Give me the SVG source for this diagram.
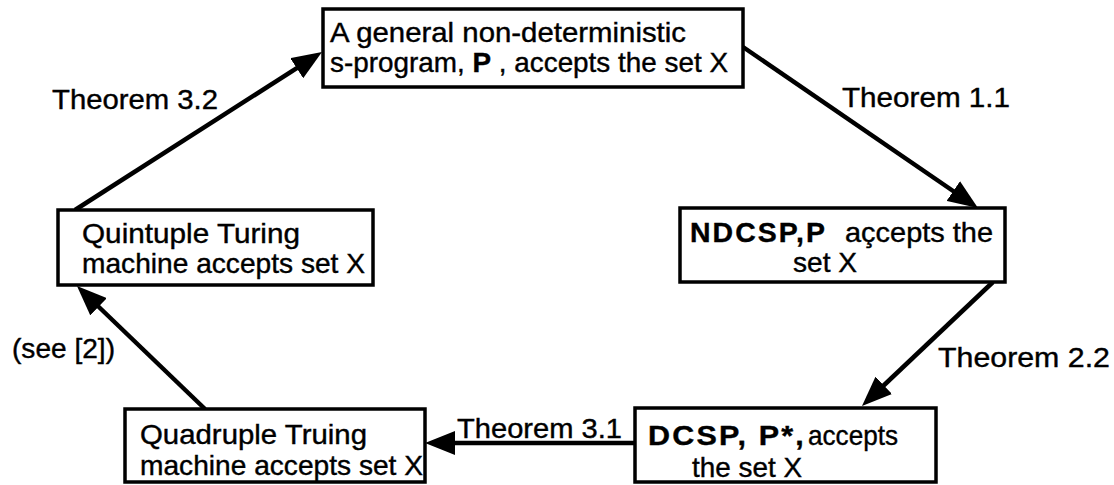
<svg xmlns="http://www.w3.org/2000/svg" width="1114" height="485" viewBox="0 0 1114 485">
  <style>
    .box { fill: #ffffff; stroke: #000000; stroke-width: 3.5; }
    .t { font-family: "Liberation Sans", Arial, Helvetica, sans-serif; font-size: 28px; fill: #000000; stroke: #000000; stroke-width: 0.4; }
    .b { font-weight: bold; }
    .wide { font-weight: bold; letter-spacing: 2px; }
    .edge { fill: none; stroke: #000000; stroke-width: 4.5; }
  </style>
  <defs>
    <marker id="head" viewBox="0 0 30 24" markerWidth="30" markerHeight="24" refX="14" refY="12" orient="auto" markerUnits="userSpaceOnUse">
      <path d="M0,0 L30,12 L0,24 z" fill="#000000"/>
    </marker>
  </defs>
  <rect width="1114" height="485" fill="#ffffff"/>

  <!-- connectors -->
  <g id="connectors">
    <line class="edge" x1="743" y1="47" x2="964.8" y2="199" marker-end="url(#head)"/>
    <line class="edge" x1="993" y1="282" x2="873.6" y2="395" marker-end="url(#head)"/>
    <line class="edge" x1="635" y1="443" x2="441" y2="443" marker-end="url(#head)"/>
    <line class="edge" x1="205" y1="409" x2="88.5" y2="297" marker-end="url(#head)"/>
    <line class="edge" x1="75" y1="210" x2="308.5" y2="60.6" marker-end="url(#head)"/>
    <text class="t" x="842" y="107" textLength="168" lengthAdjust="spacingAndGlyphs">Theorem 1.1</text>
    <text class="t" x="938" y="367" textLength="172" lengthAdjust="spacingAndGlyphs">Theorem 2.2</text>
    <text class="t" x="457" y="438" textLength="165" lengthAdjust="spacingAndGlyphs">Theorem 3.1</text>
    <text class="t" x="52" y="109" textLength="166" lengthAdjust="spacingAndGlyphs">Theorem 3.2</text>
    <text class="t" x="12" y="358" textLength="103" lengthAdjust="spacingAndGlyphs">(see [2])</text>
  </g>

  <!-- general s-program -->
  <g id="node-general">
    <rect class="box" x="323" y="9" width="420" height="78"/>
    <text class="t" x="330" y="42" textLength="356" lengthAdjust="spacingAndGlyphs">A general non-deterministic</text>
    <text class="t" x="330" y="72" textLength="398" lengthAdjust="spacingAndGlyphs">s-program, <tspan class="b">P</tspan> , accepts the set X</text>
  </g>

  <!-- non-deterministic CSP -->
  <g id="node-ndcsp">
    <rect class="box" x="680" y="208" width="325" height="74"/>
    <text class="t wide" x="690" y="242" textLength="137" lengthAdjust="spacingAndGlyphs">NDCSP,P</text>
    <text class="t" x="845" y="242" textLength="148" lengthAdjust="spacingAndGlyphs">açcepts the</text>
    <text class="t" x="793" y="272" textLength="64" lengthAdjust="spacingAndGlyphs">set X</text>
  </g>

  <!-- deterministic CSP -->
  <g id="node-dcsp">
    <rect class="box" x="635" y="408" width="301" height="74"/>
    <text class="t wide" x="648" y="445" textLength="158" lengthAdjust="spacingAndGlyphs">DCSP, P*,</text>
    <text class="t" x="808" y="445" textLength="90" lengthAdjust="spacingAndGlyphs">accepts</text>
    <text class="t" x="692" y="477" textLength="110" lengthAdjust="spacingAndGlyphs">the set X</text>
  </g>

  <!-- quadruple machine -->
  <g id="node-quadruple">
    <rect class="box" x="125" y="409" width="300" height="73"/>
    <text class="t" x="140" y="444" textLength="227" lengthAdjust="spacingAndGlyphs">Quadruple Truing</text>
    <text class="t" x="140" y="475" textLength="283" lengthAdjust="spacingAndGlyphs">machine accepts set X</text>
  </g>

  <!-- quintuple machine -->
  <g id="node-quintuple">
    <rect class="box" x="58" y="210" width="315" height="75"/>
    <text class="t" x="82" y="243" textLength="218" lengthAdjust="spacingAndGlyphs">Quintuple Turing</text>
    <text class="t" x="82" y="273" textLength="283" lengthAdjust="spacingAndGlyphs">machine accepts set X</text>
  </g>
</svg>
